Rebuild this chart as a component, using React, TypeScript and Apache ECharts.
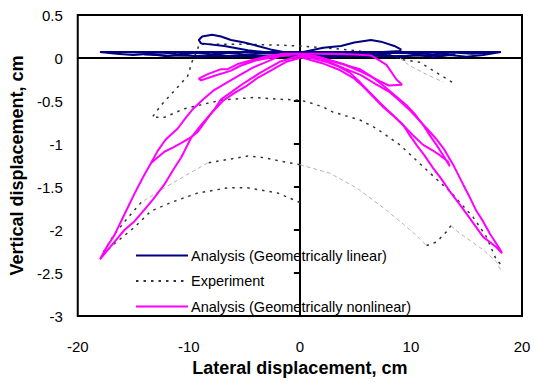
import React, { useEffect, useRef } from "react";
import * as echarts from "echarts";

const LINEAR = "Analysis (Geometrically linear)";
const EXPERIMENT = "Experiment";
const NONLINEAR = "Analysis (Geometrically nonlinear)";

const xRange = [-20, 20];
const xStep = 10;
const yRange = [-3, 0.5];
const yStep = 0.5;

// ---- Experiment (dark dotted) ----
const expMain: number[][] = [
  [13.7, -0.28], [12.3, -0.17], [10.8, -0.05], [9.3, -0.02], [8, 0.04], [6, 0.07], [4, 0.1], [2, 0.12],
  [0, 0.14], [-2, 0.15], [-5, 0.16], [-7, 0.16], [-9.1, 0.16], [-9.2, 0.1], [-9.7, -0.04], [-10.1, -0.21],
  [-11.3, -0.38], [-12.5, -0.55], [-13.3, -0.69], [-12.2, -0.69], [-10.4, -0.59], [-7.1, -0.49],
  [-4.2, -0.46], [-1.75, -0.48], [0, -0.49], [0.65, -0.51], [2.1, -0.57], [3.0, -0.63], [5.4, -0.72],
  [6.9, -0.82], [9.0, -1.01], [11.4, -1.3], [13.5, -1.55], [15.6, -1.85], [16.8, -2.08], [17.7, -2.35],
  [18.1, -2.4],
];
const expUpperLeft: number[][] = [
  [0, -1.24], [-1.75, -1.2], [-3.2, -1.16], [-4.7, -1.14], [-6.5, -1.18], [-8.3, -1.22],
];
const expUpperLeftTail: number[][] = [
  [-14.3, -1.68], [-15.5, -1.86], [-16.7, -2.05], [-17.9, -2.3],
];
const expLowerLeft: number[][] = [
  [0, -1.68], [-2.0, -1.57], [-4.7, -1.51], [-6.5, -1.51], [-9.2, -1.57], [-11.6, -1.68],
  [-13.4, -1.78], [-14.9, -1.97], [-16.7, -2.16], [-17.9, -2.3],
];
const expRightBump: number[][] = [
  [11.4, -2.18], [12.3, -2.14], [13.2, -2.02], [13.6, -1.95],
];
// ---- Experiment (light grey segments) ----
const expLightLeft: number[][] = [
  [-8.3, -1.22], [-10.2, -1.36], [-12.2, -1.51], [-14.3, -1.68],
];
const expLightRight: number[][] = [
  [0, -1.24], [2.7, -1.34], [5.1, -1.51], [7.5, -1.74], [9.3, -1.93], [10.8, -2.1], [11.4, -2.18],
];
const expLightRightTail: number[][] = [
  [13.6, -1.95], [14.4, -2.04], [15.3, -2.12], [16.5, -2.23], [17.7, -2.37], [18.1, -2.47],
];
const expLightTop: number[][] = [
  [9.0, 0.0], [9.9, -0.09], [11.4, -0.19], [12.9, -0.28],
];

// ---- Analysis, geometrically linear ----
const linLeftTop: number[][] = [[0, 0.07], [-9, 0.07], [-18, 0.07]];
const linLeftZig: number[][] = [
  [-18, 0.07], [-16.5, 0.05], [-15, 0.035], [-13.5, 0.05], [-12, 0.02], [-10.5, 0.045], [-9, 0.01],
  [-7.5, 0.04], [-6, 0.015], [-4.5, 0.035], [-3, 0.015], [-1.5, 0.035], [0, 0.02],
];
const linLeftMid: number[][] = [
  [-16, 0.07], [-14, 0.06], [-12.5, 0.065], [-11, 0.045], [-9.5, 0.06], [-8, 0.045], [-6.5, 0.06],
  [-5, 0.04], [-3, 0.055], [0, 0.045],
];
const linLeftLow: number[][] = [
  [-14, 0.04], [-12, 0.03], [-10, 0.025], [-8, 0.02], [-6, 0.025], [-4, 0.02], [-2, 0.025], [0, 0.03],
];
const linRightTop: number[][] = [[0, 0.07], [9, 0.07], [18.1, 0.07]];
const linRightZig: number[][] = [
  [0, 0.02], [1.5, 0.035], [3, 0.01], [4.5, 0.035], [6, 0.015], [7.5, 0.04], [9, 0.01], [10.5, 0.04],
  [12, 0.01], [13.5, 0.035], [15, 0.015], [16.5, 0.035], [18.1, 0.07],
];
const linRightMid: number[][] = [
  [0, 0.05], [3, 0.055], [6, 0.045], [9, 0.06], [12, 0.045], [13.8, 0.065], [15.5, 0.05], [17, 0.06],
];
const linRightLow: number[][] = [
  [0, 0.03], [2, 0.025], [4, 0.02], [6, 0.03], [8, 0.02], [10, 0.025], [12, 0.03], [14, 0.04],
];
const linLeftLoop: number[][] = [
  [0, 0.06], [-1.5, 0.07], [-2.65, 0.1], [-3.8, 0.14], [-5.0, 0.18], [-6.2, 0.21], [-7.1, 0.25],
  [-7.9, 0.27], [-8.8, 0.25], [-9.1, 0.21], [-8.9, 0.17], [-6.8, 0.14], [-4.7, 0.09], [-2.5, 0.06], [0, 0.05],
];
const linRightLoop: number[][] = [
  [0, 0.06], [2.1, 0.12], [3.7, 0.14], [4.9, 0.18], [6.4, 0.21], [7.3, 0.19], [8.5, 0.14], [9.1, 0.1],
  [9.0, 0.08], [7.5, 0.07], [5.8, 0.06], [3, 0.06], [0, 0.05],
];

// ---- Analysis, geometrically nonlinear ----
const nlLeftLoop: number[][] = [
  [0, 0.05], [-1.5, 0.04], [-2.9, -0.04], [-4.2, -0.11], [-5.3, -0.19], [-6.5, -0.28], [-7.8, -0.38],
  [-8.7, -0.48], [-9.6, -0.59], [-10.3, -0.7], [-11.0, -0.82], [-12.1, -0.95], [-12.8, -1.08],
  [-13.4, -1.22], [-14.1, -1.38], [-14.9, -1.58], [-15.8, -1.82], [-16.7, -2.06], [-17.4, -2.2],
  [-18.0, -2.34], [-16.9, -2.17], [-15.8, -2.0], [-14.9, -1.9], [-14.3, -1.81], [-13.2, -1.64],
  [-12.2, -1.47], [-11.4, -1.3], [-10.7, -1.16], [-9.8, -0.93], [-8.9, -0.78], [-7.9, -0.63],
  [-6.85, -0.49], [-5.8, -0.4], [-4.75, -0.32], [-3.8, -0.23], [-2.95, -0.17], [-1.15, -0.04], [0, 0.0],
];
const nlLeftMid: number[][] = [
  [-13.4, -1.22], [-12.2, -1.09], [-11.4, -1.04], [-10.7, -0.99], [-9.9, -0.93], [-9.2, -0.86],
  [-8.3, -0.7], [-7.6, -0.58], [-7.1, -0.48], [-6.2, -0.4], [-5.35, -0.32], [-4.4, -0.24],
  [-3.55, -0.17], [-1.75, -0.04], [0, 0.03],
];
const nlLeftSmall: number[][] = [
  [0, 0.05], [-1.5, 0.05], [-2.95, 0.02], [-4.2, -0.02], [-5.6, -0.07], [-6.5, -0.13], [-7.1, -0.13],
  [-8.35, -0.19], [-9.1, -0.24], [-8.9, -0.26], [-7.75, -0.21], [-6.25, -0.15], [-5.35, -0.09],
  [-4, -0.03], [-2, 0.02], [0, 0.05],
];
const nlRightLoop: number[][] = [
  [0, 0.05], [1.5, 0.02], [2.74, -0.05], [4, -0.12], [5.5, -0.2], [6.8, -0.3], [8.13, -0.4], [9.0, -0.5],
  [9.93, -0.61], [10.7, -0.72], [11.43, -0.82], [12.2, -0.93], [12.93, -1.05], [13.8, -1.24],
  [14.7, -1.47], [15.3, -1.62], [15.9, -1.78], [16.5, -1.9], [17.1, -2.04], [18.0, -2.22], [18.2, -2.27],
  [17.7, -2.2], [16.5, -2.08], [15.0, -1.81], [14.2, -1.67], [13.5, -1.55], [12.7, -1.4], [12.0, -1.28],
  [11.2, -1.13], [10.5, -1.01], [9.9, -0.9], [9.3, -0.78], [8.1, -0.63], [7.2, -0.52], [6.3, -0.4],
  [5.4, -0.28], [4.5, -0.17], [3.5, -0.1], [2.5, -0.05], [1, 0.0], [0, 0.02],
];
const nlRightMid: number[][] = [
  [0, 0.04], [2, 0.0], [3.8, -0.07], [5.4, -0.13], [6.5, -0.22], [7.5, -0.32], [8.6, -0.44], [9.6, -0.55],
  [10.4, -0.66], [11.1, -0.78], [11.7, -0.9], [12.3, -1.01], [12.9, -1.13], [13.5, -1.26], [13.3, -1.2],
  [12.6, -1.13], [11.9, -1.07], [11.1, -1.01], [10.2, -0.9], [9.3, -0.78], [8.4, -0.67], [7.5, -0.57],
  [6.6, -0.45], [5.6, -0.32], [4.8, -0.23], [3.6, -0.14], [2, -0.06], [0, 0.01],
];
const nlRightSmall: number[][] = [
  [0, 0.05], [3, 0.05], [5, 0.04], [6.4, 0.03], [7.2, -0.03], [7.8, -0.08], [8.7, -0.25], [9.2, -0.31],
  [8.0, -0.32], [7.2, -0.27], [5.7, -0.17], [3.9, -0.07], [2, 0.0], [0, 0.04],
];

const FONT = "'Liberation Sans', Arial, sans-serif";
const NAVY = "#000080";
const MAGENTA = "#FF00FF";
const DARK = "#333333";
const LIGHT = "#b4b4b4";

function mk(name: string, data: number[][], color: string, width: number, type: any, z: number) {
  return {
    name,
    type: "line",
    data,
    symbol: "none",
    showSymbol: false,
    smooth: false,
    z,
    lineStyle: { color, width, type },
    itemStyle: { color },
    emphasis: { disabled: true },
  };
}

export default function App() {
  const ref = useRef<HTMLDivElement>(null);
  useEffect(() => {
    if (!ref.current) return;
    const chart = echarts.init(ref.current, undefined, { renderer: "svg" });
    const dash = [2.5, 5];
    const lightDash = [4, 3];
    const series = [
      mk(EXPERIMENT, expMain, DARK, 1.5, dash, 2),
      mk(EXPERIMENT, expUpperLeft, DARK, 1.5, dash, 2),
      mk(EXPERIMENT, expUpperLeftTail, DARK, 1.5, dash, 2),
      mk(EXPERIMENT, expLowerLeft, DARK, 1.5, dash, 2),
      mk(EXPERIMENT, expRightBump, DARK, 1.5, dash, 2),
      mk(EXPERIMENT, expLightLeft, LIGHT, 1, lightDash, 2),
      mk(EXPERIMENT, expLightRight, LIGHT, 1, lightDash, 2),
      mk(EXPERIMENT, expLightRightTail, LIGHT, 1, lightDash, 2),
      mk(EXPERIMENT, expLightTop, LIGHT, 1, lightDash, 2),
      mk(LINEAR, linLeftTop, NAVY, 2, "solid", 3),
      mk(LINEAR, linLeftZig, NAVY, 2, "solid", 3),
      mk(LINEAR, linLeftMid, NAVY, 2, "solid", 3),
      mk(LINEAR, linLeftLow, NAVY, 2, "solid", 3),
      mk(LINEAR, linRightTop, NAVY, 2, "solid", 3),
      mk(LINEAR, linRightZig, NAVY, 2, "solid", 3),
      mk(LINEAR, linRightMid, NAVY, 2, "solid", 3),
      mk(LINEAR, linRightLow, NAVY, 2, "solid", 3),
      mk(LINEAR, linLeftLoop, NAVY, 2, "solid", 3),
      mk(LINEAR, linRightLoop, NAVY, 2, "solid", 3),
      mk(NONLINEAR, nlLeftLoop, MAGENTA, 2, "solid", 4),
      mk(NONLINEAR, nlLeftMid, MAGENTA, 2, "solid", 4),
      mk(NONLINEAR, nlLeftSmall, MAGENTA, 2, "solid", 4),
      mk(NONLINEAR, nlRightLoop, MAGENTA, 2, "solid", 4),
      mk(NONLINEAR, nlRightMid, MAGENTA, 2, "solid", 4),
      mk(NONLINEAR, nlRightSmall, MAGENTA, 2, "solid", 4),
    ];
    chart.setOption({
      animation: false,
      backgroundColor: "#fff",
      textStyle: { fontFamily: FONT },
      grid: { left: 77, right: 12, top: 15, bottom: 62, show: true, borderColor: "#000", borderWidth: 2, backgroundColor: "transparent" },
      legend: {
        data: [LINEAR, EXPERIMENT, NONLINEAR],
        orient: "vertical",
        left: 135,
        top: 248,
        padding: 0,
        itemWidth: 52,
        itemHeight: 14,
        itemGap: 10.5,
        itemStyle: { opacity: 0, borderWidth: 0 },
        textStyle: { fontFamily: FONT, fontSize: 14.5, color: "#000", padding: [0, 0, 0, -2] },
        selectedMode: false,
      },
      xAxis: [
        {
          type: "value",
          min: xRange[0],
          max: xRange[1],
          interval: xStep,
          position: "bottom",
          axisLine: { show: false, onZero: false },
          axisTick: { show: false },
          splitLine: { show: false },
          axisLabel: { fontFamily: FONT, fontSize: 15, color: "#000", margin: 23 },
          name: "Lateral displacement, cm",
          nameLocation: "middle",
          nameGap: 43,
          nameTextStyle: { fontFamily: FONT, fontSize: 18, fontWeight: "bold", color: "#000" },
        },
        {
          type: "value",
          min: xRange[0],
          max: xRange[1],
          interval: xStep,
          position: "bottom",
          axisLine: { show: true, onZero: true, onZeroAxisIndex: 0, lineStyle: { color: "#000", width: 2 } },
          axisTick: { show: false },
          axisLabel: { show: false },
          splitLine: { show: false },
        },
      ],
      yAxis: [
        {
          type: "value",
          min: yRange[0],
          max: yRange[1],
          interval: yStep,
          position: "left",
          axisLine: { show: false, onZero: false },
          axisTick: { show: false },
          splitLine: { show: false },
          axisLabel: { fontFamily: FONT, fontSize: 15, color: "#000", margin: 15 },
          name: "Vertical displacement, cm",
          nameLocation: "middle",
          nameGap: 51,
          nameTextStyle: { fontFamily: FONT, fontSize: 18, fontWeight: "bold", color: "#000" },
        },
        {
          type: "value",
          min: yRange[0],
          max: yRange[1],
          interval: yStep,
          position: "left",
          axisLine: { show: true, onZero: true, onZeroAxisIndex: 0, lineStyle: { color: "#000", width: 2 } },
          axisTick: { show: true, inside: false, length: 6, lineStyle: { color: "#000", width: 2 } },
          axisLabel: { show: false },
          splitLine: { show: false },
        },
      ],
      series,
    });
    return () => chart.dispose();
  }, []);
  return <div ref={ref} style={{ position: "fixed", left: 0, top: 0, width: 534, height: 382 }} />;
}
